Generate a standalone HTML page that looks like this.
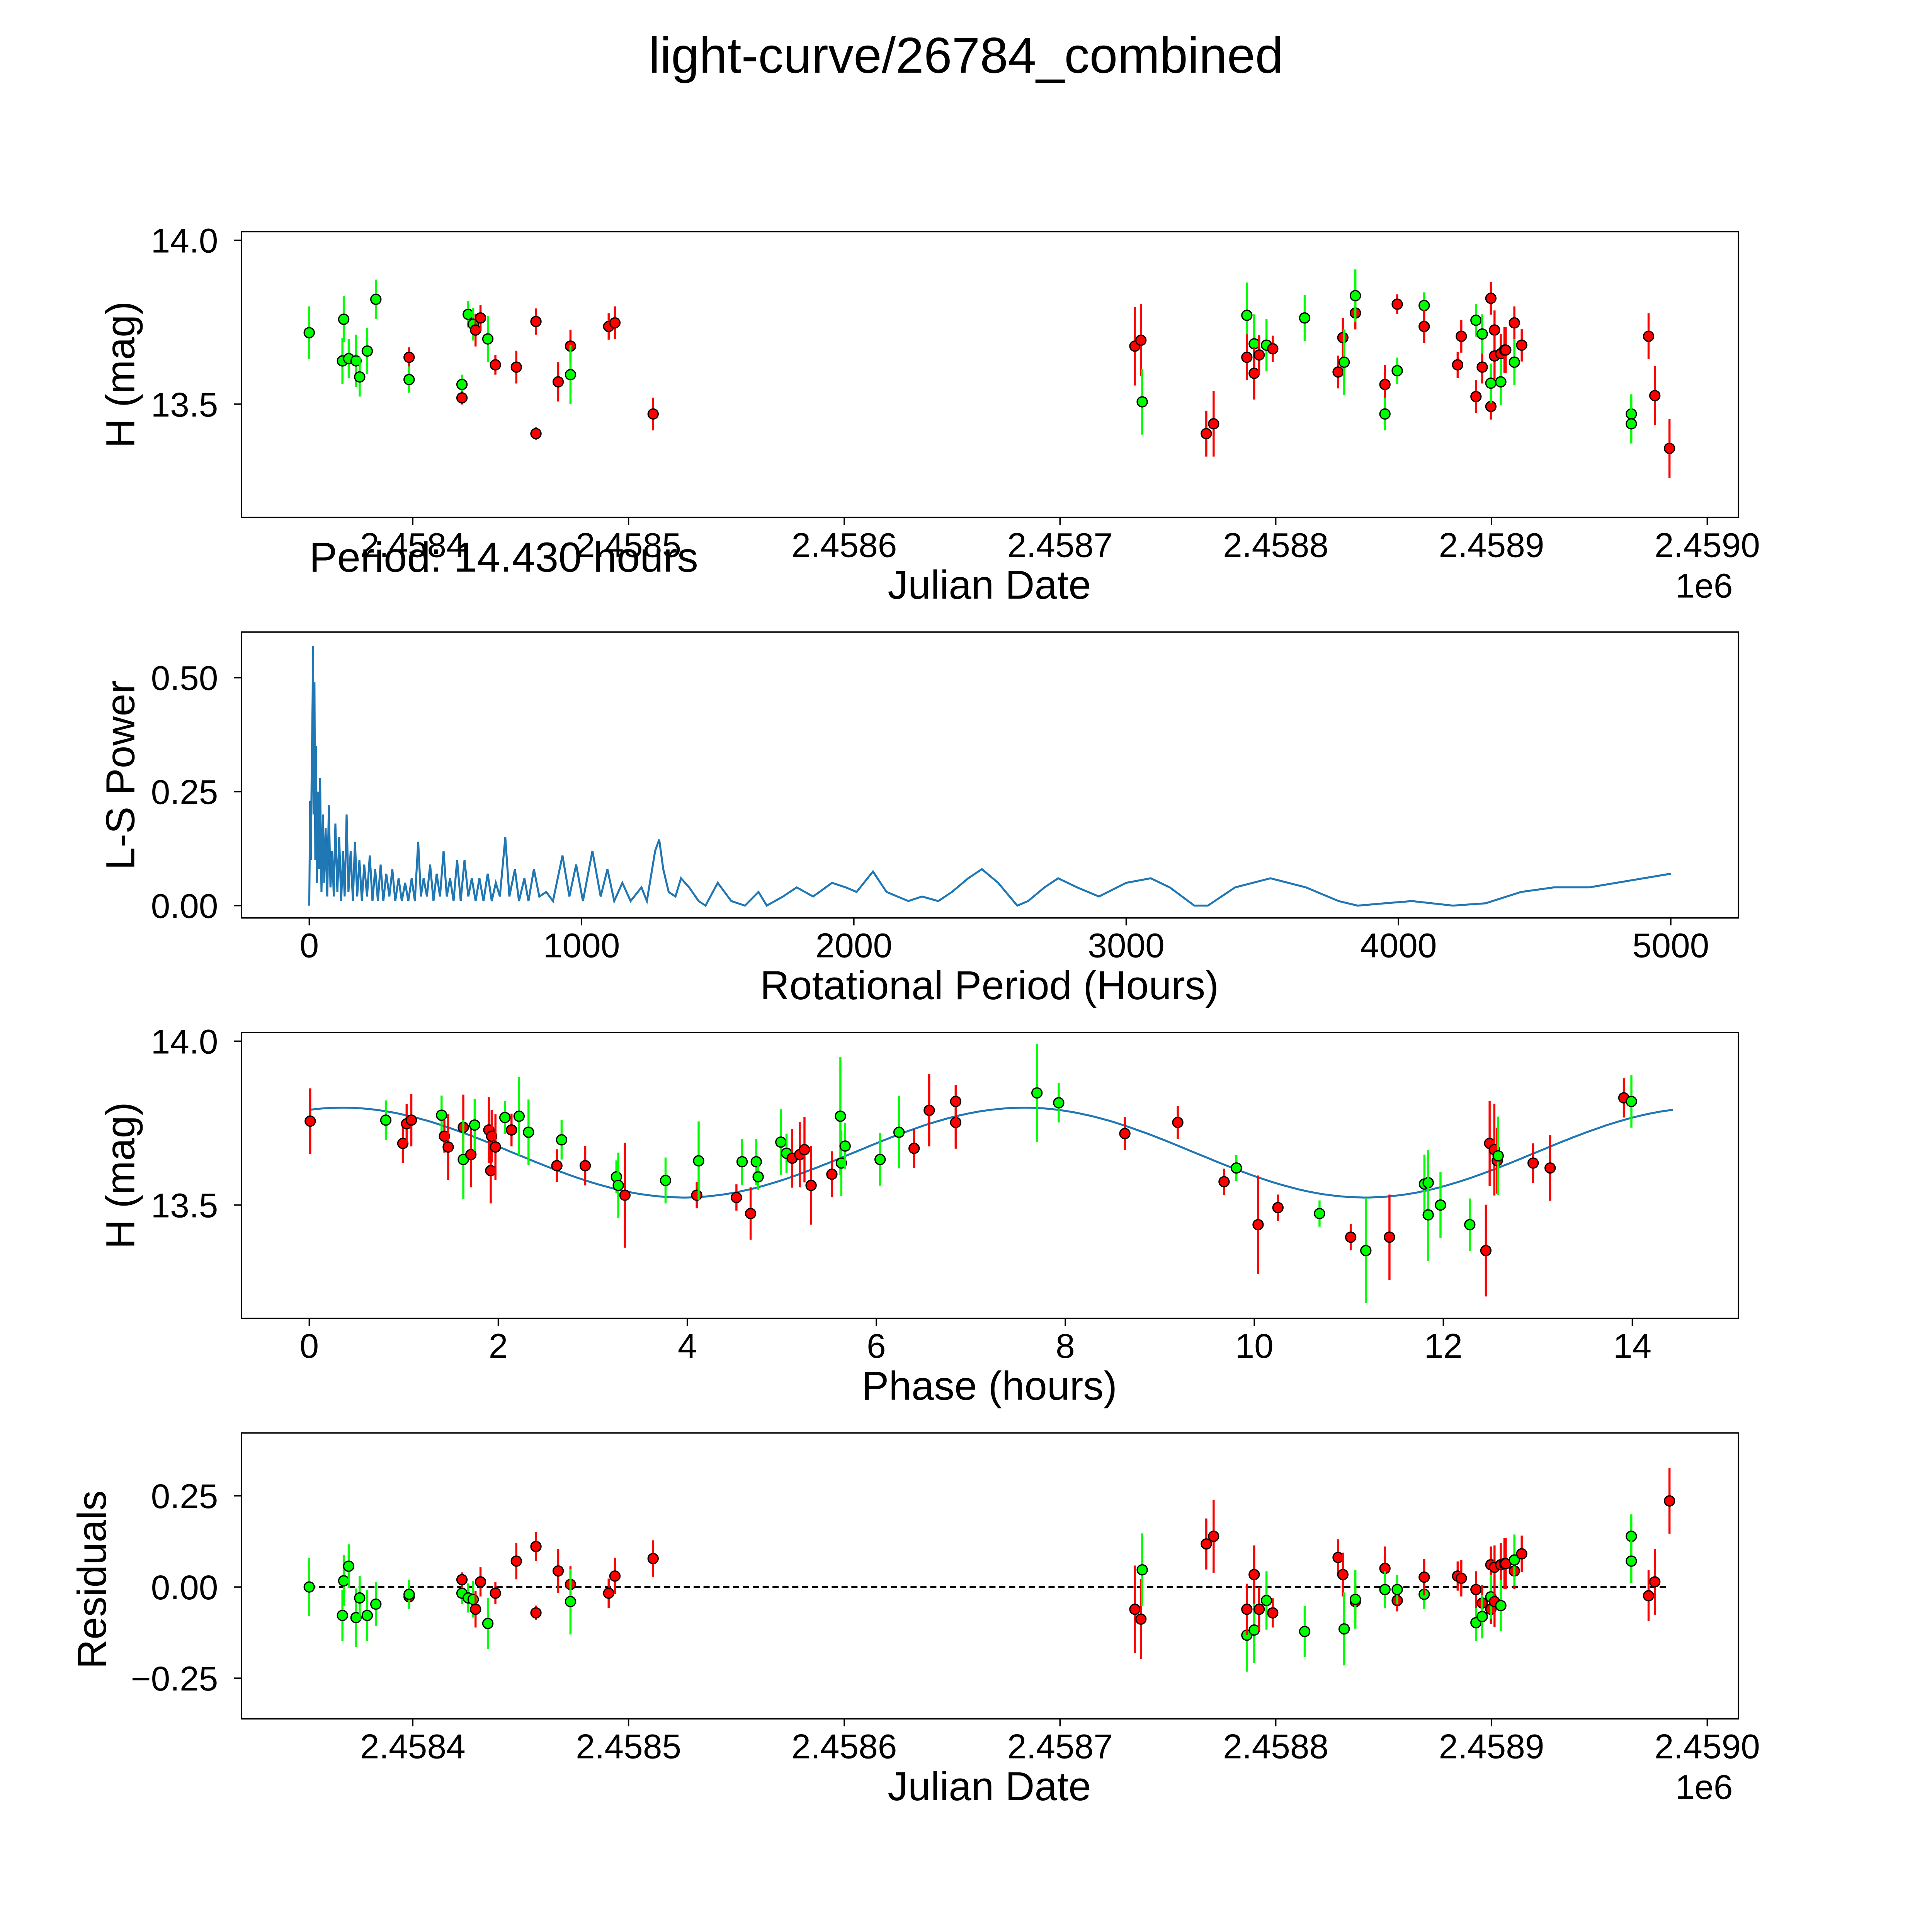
<!DOCTYPE html>
<html><head><meta charset="utf-8"><style>
html,body{margin:0;padding:0;background:#fff;overflow:hidden;width:100%;height:100%}
svg{display:block;width:100vw;height:100vh}
text{font-family:"Liberation Sans","DejaVu Sans",sans-serif;fill:#000}
</style></head><body>
<svg id="fig" xmlns="http://www.w3.org/2000/svg" viewBox="0 0 1568 1568" preserveAspectRatio="xMidYMid meet">
<rect width="1568" height="1568" fill="#fff"/>
<text x="784" y="59" font-size="41" text-anchor="middle">light-curve/26784_combined</text>
</svg>
<script>
// ---- data: light curve (days offset from 2458400 JD), magnitude, error, colour ----
const jdOffsets=[-48,-32.6,-32,-29.7,-26.3,-24.6,-21.1,-17.1,-1.7,-1.7,22.8,22.8,25.7,28,29.1,31.4,34.8,38.3,48,57.1,57.1,67.4,73.1,73.1,90.8,93.7,111.4,334.7,337.5,338.1,367.8,371.2,386.6,386.6,390,390,392.3,395.7,398.6,413.4,428.9,431.1,431.7,436.9,436.9,450.6,450.6,456.3,456.3,468.8,468.8,484.3,486,492.8,492.8,495.7,495.7,499.7,499.7,499.7,501.4,501.4,504.3,504.3,506,506.6,510.6,510.6,514,564.8,564.8,572.8,575.7,582.5];
const mags=[13.718,13.632,13.759,13.639,13.632,13.583,13.662,13.820,13.643,13.575,13.560,13.519,13.774,13.744,13.726,13.763,13.699,13.620,13.613,13.752,13.410,13.568,13.677,13.590,13.737,13.748,13.470,13.677,13.695,13.507,13.410,13.440,13.771,13.643,13.684,13.594,13.650,13.680,13.669,13.763,13.598,13.703,13.628,13.778,13.831,13.560,13.470,13.805,13.602,13.801,13.737,13.620,13.707,13.756,13.523,13.613,13.714,13.823,13.493,13.564,13.726,13.647,13.654,13.568,13.665,13.665,13.748,13.628,13.680,13.470,13.440,13.707,13.526,13.365];
const errs=[0.08,0.07,0.07,0.06,0.08,0.06,0.07,0.06,0.03,0.04,0.03,0.02,0.04,0.05,0.05,0.04,0.07,0.03,0.05,0.04,0.02,0.06,0.05,0.09,0.04,0.05,0.05,0.12,0.11,0.1,0.07,0.1,0.1,0.07,0.09,0.08,0.06,0.08,0.04,0.07,0.05,0.06,0.1,0.05,0.08,0.06,0.05,0.03,0.04,0.04,0.05,0.04,0.05,0.05,0.05,0.05,0.06,0.05,0.04,0.06,0.06,0.07,0.06,0.07,0.07,0.07,0.05,0.07,0.05,0.06,0.06,0.07,0.09,0.09];
const colors=["g","g","g","g","g","g","g","g","r","g","g","r","g","g","r","r","g","r","r","r","r","r","r","g","r","r","r","r","r","g","r","r","g","r","g","r","r","g","r","g","r","r","g","r","g","r","g","r","g","g","r","r","r","g","r","r","g","r","r","g","r","r","r","g","r","r","r","g","r","g","g","r","r","r"];
const residuals=[0,-0.078,0.017,0.057,-0.084,-0.03,-0.078,-0.047,-0.027,-0.02,-0.017,0.02,-0.03,-0.034,-0.061,0.014,-0.1,-0.017,0.071,0.111,-0.071,0.044,0.007,-0.04,-0.017,0.03,0.078,-0.061,-0.088,0.047,0.118,0.139,-0.132,-0.061,-0.118,0.034,-0.061,-0.037,-0.071,-0.122,0.081,0.034,-0.115,-0.04,-0.034,0.051,-0.007,-0.037,-0.007,-0.02,0.027,0.03,0.024,-0.098,-0.007,-0.044,-0.081,0.061,-0.061,-0.027,0.054,-0.04,0.061,-0.051,0.064,0.064,0.044,0.074,0.091,0.139,0.071,-0.024,0.014,0.236];
// ---- phase-folded data ----
const phases=[0.01,0.81,0.99,1.03,1.08,1.40,1.43,1.47,1.63,1.63,1.71,1.75,1.90,1.92,1.93,1.97,2.07,2.14,2.22,2.32,2.62,2.67,2.92,3.25,3.27,3.34,3.77,4.10,4.12,4.52,4.58,4.67,4.73,4.75,4.99,5.05,5.11,5.19,5.24,5.31,5.53,5.62,5.63,5.67,6.04,6.24,6.40,6.56,6.84,6.84,7.70,7.93,8.63,9.19,9.68,9.81,10.04,10.25,10.69,11.02,11.18,11.43,11.80,11.84,11.84,11.97,12.28,12.45,12.49,12.54,12.57,12.58,12.95,13.13,13.91,13.99];
const phaseMags=[13.756,13.759,13.688,13.748,13.759,13.774,13.710,13.677,13.737,13.639,13.654,13.744,13.729,13.605,13.710,13.677,13.767,13.729,13.771,13.722,13.620,13.699,13.620,13.586,13.560,13.530,13.575,13.530,13.635,13.523,13.632,13.474,13.632,13.586,13.692,13.658,13.643,13.654,13.669,13.560,13.594,13.771,13.628,13.680,13.639,13.722,13.673,13.789,13.752,13.816,13.842,13.812,13.718,13.752,13.571,13.613,13.440,13.492,13.474,13.402,13.361,13.402,13.564,13.568,13.470,13.500,13.440,13.361,13.688,13.669,13.635,13.650,13.628,13.613,13.827,13.816];
const phaseErrs=[0.1,0.06,0.06,0.06,0.08,0.06,0.05,0.1,0.1,0.12,0.1,0.08,0.1,0.1,0.08,0.1,0.05,0.05,0.12,0.1,0.05,0.06,0.06,0.05,0.1,0.16,0.07,0.04,0.12,0.04,0.07,0.08,0.07,0.04,0.1,0.06,0.09,0.1,0.1,0.12,0.07,0.18,0.1,0.07,0.08,0.11,0.06,0.11,0.08,0.05,0.15,0.06,0.05,0.05,0.04,0.04,0.15,0.04,0.04,0.04,0.16,0.13,0.09,0.1,0.14,0.1,0.08,0.14,0.13,0.14,0.1,0.12,0.06,0.1,0.06,0.08];
const phaseColors=["r","g","r","r","r","g","r","r","r","g","r","g","r","r","r","r","g","r","g","g","r","g","r","g","g","r","g","r","g","r","g","r","g","g","g","g","r","r","r","r","r","g","g","g","g","g","r","r","r","r","g","g","r","r","r","g","r","r","g","r","g","r","g","g","g","g","g","r","r","r","r","g","r","r","r","g"];
// sine model parameters (fit)
const period=14.43, modelMean=13.66, modelAmp=0.137, modelPeakPhase=0.35;
// ---- periodogram ----
const lsPeriods=[0,3,6,9,12,14,16,19,22,25,28,32,36,40,45,50,55,60,66,72,78,84,90,96,103,110,117,124,130,137,144,152,160,168,176,184,193,202,212,222,232,242,252,262,272,283,294,305,316,328,340,352,364,376,388,400,410,420,432,444,456,468,480,493,505,517,530,543,556,570,584,597,611,625,640,655,670,685,700,720,735,755,770,790,805,825,845,870,895,930,955,980,1005,1040,1070,1095,1120,1150,1180,1220,1240,1270,1285,1300,1320,1345,1365,1395,1430,1455,1500,1550,1600,1650,1680,1740,1790,1850,1920,1970,2010,2070,2120,2200,2250,2310,2360,2420,2470,2530,2600,2640,2700,2750,2820,2900,3000,3090,3160,3250,3300,3400,3530,3660,3780,3850,3950,4050,4200,4320,4450,4570,4700,4800,5000];
const lsPower=[0,0.23,0.1,0.3,0.45,0.57,0.2,0.49,0.1,0.35,0.05,0.25,0.08,0.28,0.03,0.2,0.05,0.17,0.02,0.22,0.04,0.12,0.02,0.18,0.03,0.15,0.01,0.12,0.02,0.2,0.03,0.12,0.01,0.14,0.02,0.1,0.01,0.09,0.02,0.11,0.01,0.08,0.01,0.09,0.01,0.07,0.02,0.08,0.01,0.06,0.01,0.05,0.01,0.06,0.01,0.14,0.02,0.06,0.02,0.09,0.01,0.07,0.02,0.12,0.02,0.06,0.01,0.1,0.01,0.1,0.02,0.06,0.01,0.06,0.01,0.07,0.01,0.05,0.02,0.15,0.02,0.08,0.01,0.06,0.01,0.08,0.02,0.03,0.01,0.11,0.02,0.09,0.01,0.12,0.02,0.08,0.01,0.05,0.01,0.04,0.01,0.12,0.145,0.08,0.03,0.02,0.06,0.04,0.01,0,0.05,0.01,0,0.03,0,0.02,0.04,0.02,0.05,0.04,0.03,0.075,0.03,0.01,0.02,0.01,0.03,0.06,0.08,0.05,0,0.01,0.04,0.06,0.04,0.02,0.05,0.06,0.04,0,0,0.04,0.06,0.04,0.01,0,0.005,0.01,0,0.005,0.03,0.04,0.04,0.05,0.07];
const jdTicks=["2.4584","2.4585","2.4586","2.4587","2.4588","2.4589","2.4590"];
const magTicks=[13.5,14.0];
const lsXTicks=[0,1000,2000,3000,4000,5000];
const lsYTicks=[0,0.25,0.5];
const phaseTicks=[0,2,4,6,8,10,12,14];
const residTicks=[-0.25,0,0.25];

const NS="http://www.w3.org/2000/svg";
const svg=document.getElementById('fig');
function el(tag,attrs,parent){const e=document.createElementNS(NS,tag);for(const k in attrs)e.setAttribute(k,attrs[k]);(parent||svg).appendChild(e);return e;}
function txt(s,attrs,parent){const e=el('text',attrs,parent);e.textContent=s;return e;}
const COL={r:"#ff0000",g:"#00ff00"};
const L=196,R=1411;
const TF=28, AF=33;
const xJD=d=>335+d*1.751;
const yMag1=m=>195+(14-m)*266;
const xLS=p=>251+p*0.221;
const yLS=v=>735-v*370;
const xPh=p=>251+p*76.7;
const yMag3=m=>845+(14-m)*266;
const yRes=v=>1288-v*296;

function frame(top,bottom,name){
  const r=el('rect',{x:L,y:top,width:R-L,height:bottom-top,fill:'none',stroke:'#000','stroke-width':1.1});
  
  
}
function xtick(x,bottom,label,name){
  el('line',{x1:x,x2:x,y1:bottom,y2:bottom+6,stroke:'#000','stroke-width':1.1});
  const t=txt(label,{x:x,y:bottom+32,'font-size':TF,'text-anchor':'middle'});
  
  
}
function ytick(y,label,name){
  el('line',{x1:L-6,x2:L,y1:y,y2:y,stroke:'#000','stroke-width':1.1});
  const t=txt(label,{x:L-19,y:y+10,'font-size':TF,'text-anchor':'end'});
  
  
}
function label(s,x,y,rot,name){
  const t=txt(s,{x:x,y:y,'font-size':AF,'text-anchor':'middle',transform:rot?`rotate(-90 ${x} ${y})`:''});
  
  
}
function point(x,y,ey1,ey2,c,name){
  const g=el('g',{});
  
  
  el('line',{x1:x,x2:x,y1:ey1,y2:ey2,stroke:COL[c],'stroke-width':1.7},g);
  el('circle',{cx:x,cy:y,r:4.1,fill:COL[c],stroke:'#000','stroke-width':1},g);
}

// ---- Panel 1 ----
frame(188,420,'lightcurve-axes');
jdTicks.forEach((s,i)=>xtick(xJD(i*100),420,s,'jd-tick'));
magTicks.forEach(m=>ytick(yMag1(m),m.toFixed(1),'mag-tick'));
label('H (mag)',109,304,true,'y-axis-title-mag');
label('Julian Date',803,486,false,'x-axis-title-jd');
txt('1e6',{x:1383,y:485,'font-size':TF,'text-anchor':'middle',});
jdOffsets.forEach((d,i)=>point(xJD(d),yMag1(mags[i]),yMag1(mags[i]+errs[i]),yMag1(mags[i]-errs[i]),colors[i],'lightcurve-point'));
txt('Period: 14.430 hours',{x:251,y:464,'font-size':AF+1,});

// ---- Panel 2 ----
frame(513,745,'periodogram-axes');
lsXTicks.forEach(v=>xtick(xLS(v),745,String(v),'period-tick'));
lsYTicks.forEach(v=>ytick(yLS(v),v.toFixed(2),'power-tick'));
label('L-S Power',109,629,true,'y-axis-title-power');
label('Rotational Period (Hours)',803,811,false,'x-axis-title-period');
const lsPath=el('path',{d:lsPeriods.map((p,i)=>(i?'L':'M')+xLS(p).toFixed(1)+' '+yLS(lsPower[i]).toFixed(1)).join(' '),fill:'none',stroke:'#1f77b4','stroke-width':1.6});



// ---- Panel 3 ----
frame(838,1070,'phase-axes');
phaseTicks.forEach(v=>xtick(xPh(v),1070,String(v),'phase-tick'));
magTicks.forEach(m=>ytick(yMag3(m),m.toFixed(1),'mag-tick'));
label('H (mag)',109,954,true,'y-axis-title-mag-phase');
label('Phase (hours)',803,1136,false,'x-axis-title-phase');
let md='';
for(let i=0;i<=300;i++){const p=period*i/300;const m=modelMean+modelAmp*Math.cos(4*Math.PI*(p-modelPeakPhase)/period);md+=(i?'L':'M')+xPh(p).toFixed(1)+' '+yMag3(m).toFixed(1);}
const mp=el('path',{d:md,fill:'none',stroke:'#1f77b4','stroke-width':1.6});


phases.forEach((p,i)=>point(xPh(p),yMag3(phaseMags[i]),yMag3(phaseMags[i]+phaseErrs[i]),yMag3(phaseMags[i]-phaseErrs[i]),phaseColors[i],'phase-point'));

// ---- Panel 4 ----
frame(1163,1395,'residuals-axes');
jdTicks.forEach((s,i)=>xtick(xJD(i*100),1395,s,'jd-tick'));
residTicks.forEach(v=>ytick(yRes(v),(v<0?'\u2212':'')+Math.abs(v).toFixed(2),'residual-tick'));
label('Residuals',86,1282,true,'y-axis-title-residuals');
label('Julian Date',803,1461,false,'x-axis-title-jd-residuals');
txt('1e6',{x:1383,y:1460,'font-size':TF,'text-anchor':'middle',});
const zl=el('line',{x1:xJD(jdOffsets[0]),x2:xJD(jdOffsets[jdOffsets.length-1]),y1:yRes(0),y2:yRes(0),stroke:'#000','stroke-width':1.3,'stroke-dasharray':'5,3'});


jdOffsets.forEach((d,i)=>point(xJD(d),yRes(residuals[i]),yRes(residuals[i]+errs[i]),yRes(residuals[i]-errs[i]),colors[i],'residual-point'));
</script>
</body></html>
